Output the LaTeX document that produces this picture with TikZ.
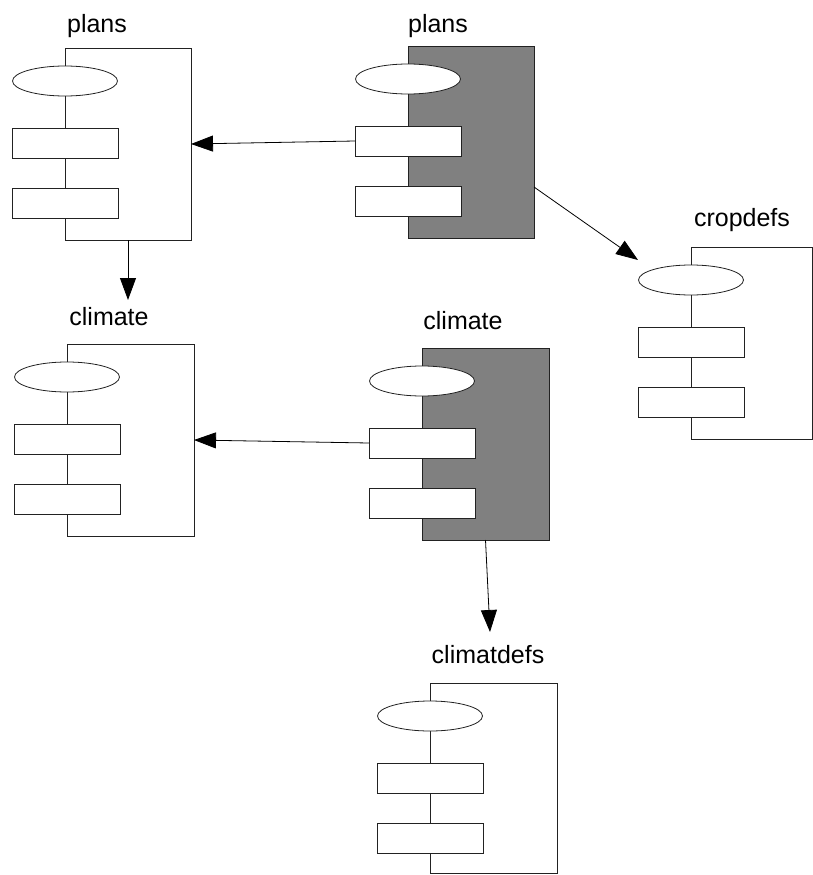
\documentclass[tikz,border=0pt]{standalone}
\usepackage{fontspec}
\setmainfont{Liberation Sans}
\usetikzlibrary{shapes.geometric,arrows.meta}
\definecolor{pkggray}{HTML}{808080}
\definecolor{edge}{HTML}{222222}
\tikzset{
  body/.style={draw=edge, line width=0.8pt, fill=white, minimum width=126pt, minimum height=192pt, anchor=north west, inner sep=0pt, outer sep=0pt},
  graybody/.style={body, fill=pkggray},
  oval/.style={ellipse, draw=edge, line width=0.8pt, fill=white, minimum width=105pt, minimum height=30pt, inner sep=0pt, outer sep=0pt},
  part/.style={rectangle, draw=edge, line width=0.8pt, fill=white, minimum width=106pt, minimum height=30pt, inner sep=0pt, outer sep=0pt},
  title/.style={font=\fontsize{25}{30}\selectfont, anchor=base, inner sep=0pt},
  conn/.style={draw=black, line width=0.8pt, -{Triangle[length=22pt,width=16pt]}}
}
\newcommand{\mypkg}[6]{% prefix, L, T, style, width, height
  \node[#4, minimum width=#5pt, minimum height=#6pt] (#1body) at (#2,#3) {};
  \node[oval] (#1ov) at (#2,#3+33) {};
  \node[part] (#1ra) at (#2,#3+95) {};
  \node[part] (#1rb) at (#2,#3+155) {};
}
\begin{document}
\begin{tikzpicture}[x=1pt,y=-1pt]
\useasboundingbox (0,0) rectangle (813,875);
% packages
\mypkg{pa}{65}{48}{body}{126}{192}
\node[title] (palab) at (97,33) {plans};
\mypkg{pb}{408}{46}{graybody}{126}{192}
\node[title] (pblab) at (438,33) {plans};
\mypkg{cd}{691}{247}{body}{121}{192}
\node[title] (cdlab) at (742,226) {cropdefs};
\mypkg{ca}{67}{344}{body}{127}{192}
\node[title] (calab) at (109,325) {climate};
\mypkg{cb}{422}{348}{graybody}{127}{192}
\node[title] (cblab) at (463,329) {climate};
\mypkg{cf}{430}{683}{body}{127}{190}
\node[title] (cflab) at (488,663) {climatdefs};
% connector free ends
\coordinate (a2end) at (128,300);
\coordinate (a3start) at (534,187);
\coordinate (a3end) at (638,260);
\coordinate (a5end) at (490,632);
% connectors
\draw[conn] (pbra.west) -- (pabody.east);
\draw[conn] (pabody.south -| a2end) -- (a2end);
\draw[conn] (a3start) -- (a3end);
\draw[conn] (cbra.west) -- (cabody.east);
\draw[conn] (cbbody.south) -- (a5end);
\end{tikzpicture}
\end{document}
